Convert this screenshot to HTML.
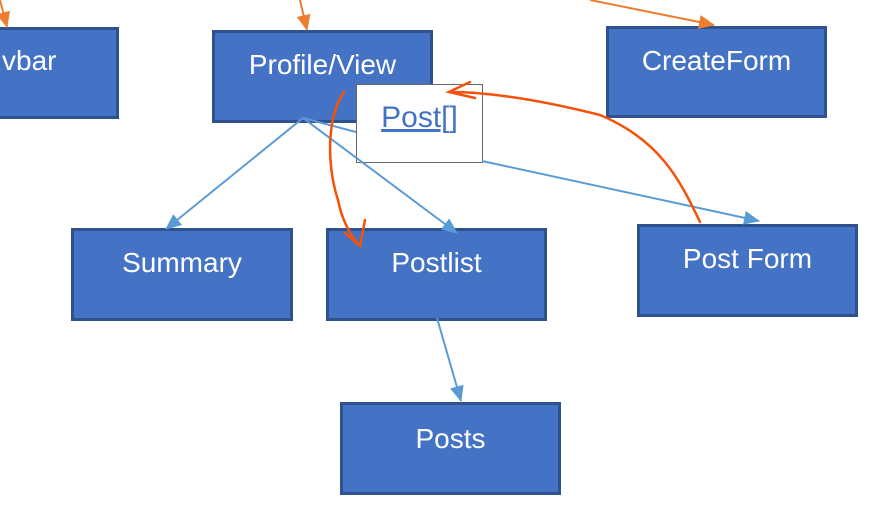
<!DOCTYPE html>
<html><head><style>
body{margin:0;width:887px;height:517px;background:#fff;overflow:hidden;position:relative;font-family:"Liberation Sans",sans-serif}
.b{position:absolute;background:#4472c4;border:3px solid #2f528f;box-sizing:border-box;color:#fff;font-size:28px;text-align:center;white-space:nowrap}
</style></head><body>
<div class="b" style="left:-20px;top:27px;width:139px;height:92px;text-align:left;padding:15px 0 0 19px">vbar</div>
<div class="b" style="left:212px;top:30px;width:221px;height:93px;padding-top:16px">Profile/View</div>
<div class="b" style="left:606px;top:26px;width:221px;height:92px;padding-top:16px">CreateForm</div>
<div class="b" style="left:71px;top:228px;width:222px;height:93px;padding-top:16px">Summary</div>
<div class="b" style="left:326px;top:228px;width:221px;height:93px;padding-top:16px">Postlist</div>
<div class="b" style="left:637px;top:224px;width:221px;height:93px;padding-top:16px">Post Form</div>
<div class="b" style="left:340px;top:402px;width:221px;height:93px;padding-top:18px">Posts</div>
<div style="position:absolute;left:356px;top:84px;width:127px;height:79px;box-sizing:border-box;border:1.5px solid #666;background:#fff;font-size:30px;color:#4472c4;text-align:center;padding-top:16px"><span style="text-decoration:underline">Post[]</span></div>
<svg width="887" height="517" style="position:absolute;left:0;top:0">
<defs>
<marker id="bl" markerWidth="16" markerHeight="14" refX="15" refY="7" orient="auto" markerUnits="userSpaceOnUse"><path d="M0,0L16,7L0,14z" fill="#5b9bd5"/></marker>
<marker id="or" markerWidth="16" markerHeight="14" refX="15" refY="7" orient="auto" markerUnits="userSpaceOnUse"><path d="M0,0L16,7L0,14z" fill="#ed7d31"/></marker>
</defs>
<g stroke="#5b9bd5" stroke-width="2" fill="none">
<line x1="303" y1="118" x2="166" y2="229" marker-end="url(#bl)"/>
<line x1="303" y1="118" x2="457" y2="233" marker-end="url(#bl)"/>
<line x1="303" y1="118" x2="356" y2="132"/>
<line x1="482" y1="161" x2="759" y2="221" marker-end="url(#bl)"/>
<line x1="437" y1="318" x2="461" y2="401" marker-end="url(#bl)"/>
</g>
<g stroke="#ed7d31" stroke-width="2" fill="none">
<line x1="300" y1="0" x2="307" y2="30" marker-end="url(#or)"/>
<line x1="0" y1="0" x2="7" y2="27" marker-end="url(#or)"/>
<line x1="590" y1="0" x2="714" y2="25" marker-end="url(#or)"/>
</g>
<g stroke="#f4510b" stroke-width="2.5" fill="none" stroke-linecap="round">
<path d="M344,92 C325,120 328,170 338,200 C342,220 350,235 360,246"/>
<path d="M345,233 L360,246 L365,220"/>
<path d="M700,222 C680,180 660,140 600,115 C540,100 490,92 449,92"/>
<path d="M470,82 L449,92 L475,98"/>
</g>
</svg>
</body></html>
